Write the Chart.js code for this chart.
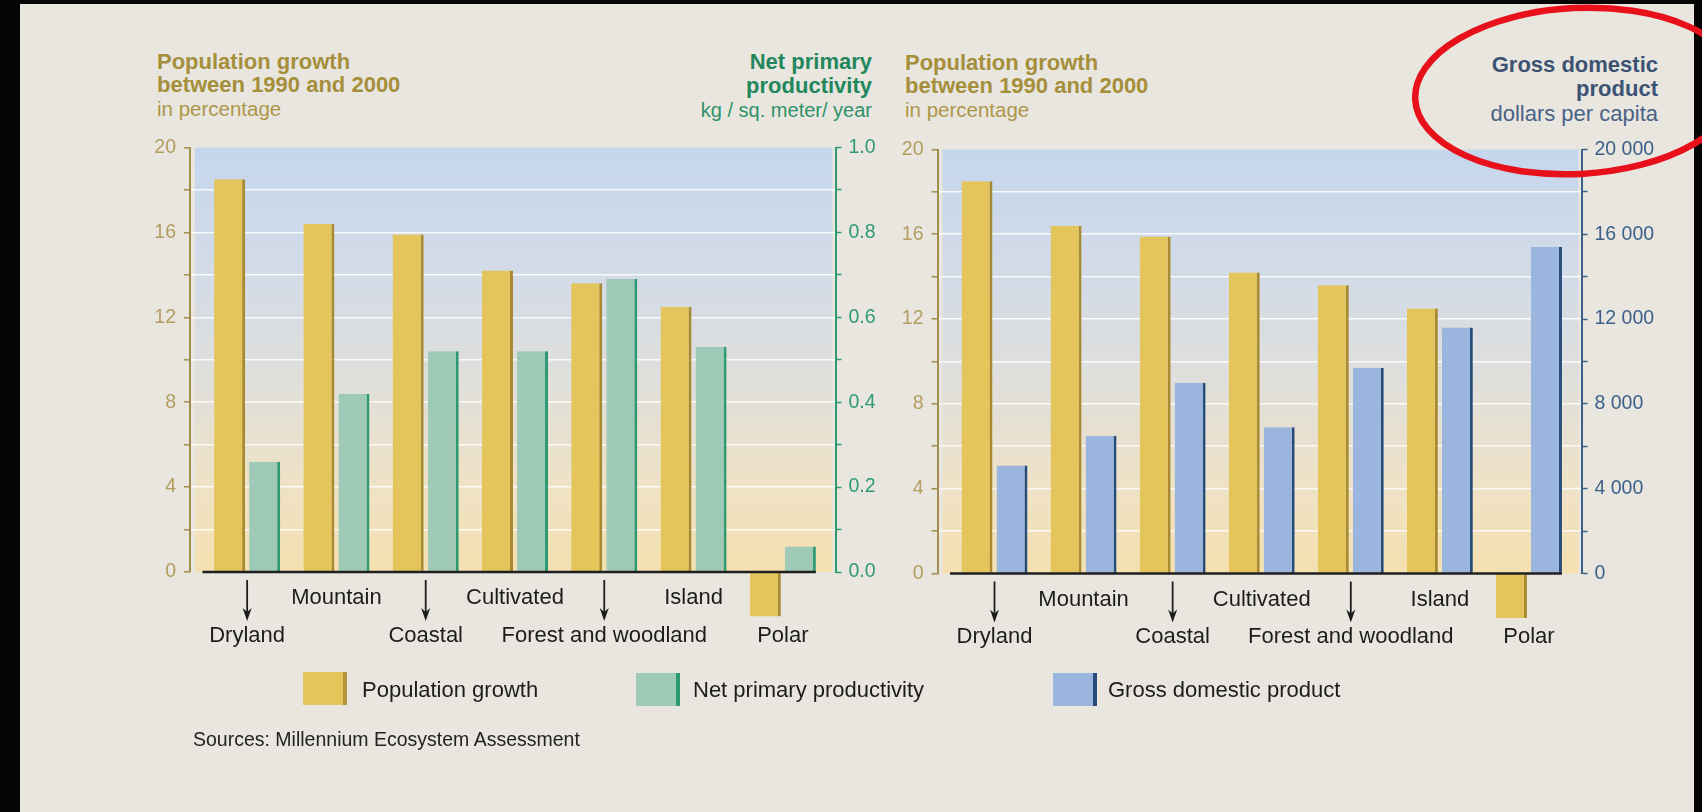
<!DOCTYPE html>
<html>
<head>
<meta charset="utf-8">
<title>Population growth, productivity and GDP by ecosystem</title>
<script src="https://cdn.jsdelivr.net/npm/chart.js@4.4.1/dist/chart.umd.min.js"></script>
<style>
  html, body { margin: 0; padding: 0; }
  body {
    width: 1702px; height: 812px; position: relative; overflow: hidden;
    background: #e9e6e0;
    font-family: "Liberation Sans", Arial, Helvetica, sans-serif;
  }
  canvas { position: absolute; left: 0; top: 0; }
  .t { position: absolute; white-space: nowrap; line-height: 1; }
  .b { font-weight: bold; font-size: 22px; }
  .r { text-align: right; }
  .pop { color: #a58f3b; }
  .pop-sub { color: #ae9748; font-size: 20.5px; }
  .npp { color: #23875c; }
  .npp-sub { color: #2f9268; font-size: 20px; }
  .gdp { color: #3b5273; }
  .gdp-sub { color: #4a6285; font-size: 22px; }
  .legend { font-size: 22px; color: #1c1c1c; }
  .swatch { position: absolute; width: 40px; height: 33px; border-right: 4px solid; }
  .frame { position: absolute; background: #050505; }
</style>
</head>
<body>

<!-- axis titles -->
<div class="t b pop" style="left:157px;top:50.7px">Population growth</div>
<div class="t b pop" style="left:157px;top:74.1px">between 1990 and 2000</div>
<div class="t pop-sub" style="left:157px;top:98.6px">in percentage</div>

<div class="t b npp r" style="right:830px;top:50.7px">Net primary</div>
<div class="t b npp r" style="right:830px;top:74.7px">productivity</div>
<div class="t npp-sub r" style="right:830px;top:99.8px">kg / sq. meter/ year</div>

<div class="t b pop" style="left:905px;top:51.9px">Population growth</div>
<div class="t b pop" style="left:905px;top:75.4px">between 1990 and 2000</div>
<div class="t pop-sub" style="left:905px;top:100px">in percentage</div>

<div class="t b gdp r" style="right:44px;top:54.1px">Gross domestic</div>
<div class="t b gdp r" style="right:44px;top:78.4px">product</div>
<div class="t gdp-sub r" style="right:44px;top:102.9px">dollars per capita</div>

<canvas id="leftChart" width="1702" height="812"></canvas>
<canvas id="rightChart" width="1702" height="812"></canvas>

<!-- legend -->
<div class="swatch" style="left:303px;top:672px;background:#e3c55b;border-color:#b4953c"></div>
<div class="t legend" style="left:362px;top:679.1px">Population growth</div>
<div class="swatch" style="left:636px;top:673px;background:#9fcab8;border-color:#2e9a72"></div>
<div class="t legend" style="left:693px;top:679.1px">Net primary productivity</div>
<div class="swatch" style="left:1053px;top:673px;background:#9ab6df;border-color:#264c7c"></div>
<div class="t legend" style="left:1108px;top:679.1px">Gross domestic product</div>

<div class="t" style="left:193px;top:730.2px;font-size:19.5px;color:#222">Sources: Millennium Ecosystem Assessment</div>

<!-- scan frame -->
<div class="frame" style="left:0;top:0;width:1702px;height:4px"></div>
<div class="frame" style="left:0;top:0;width:20px;height:812px"></div>
<div class="frame" style="left:1694px;top:0;width:8px;height:812px"></div>

<svg style="position:absolute;left:0;top:0" width="1702" height="812">
  <ellipse cx="1577" cy="91" rx="162" ry="83" transform="rotate(-3 1577 91)"
           fill="none" stroke="#e8101a" stroke-width="6.5"/>
</svg>

<script>
const categories = ['Dryland', 'Mountain', 'Coastal', 'Cultivated', 'Forest and woodland', 'Island', 'Polar'];
// % change 1990-2000
const populationGrowth = [18.5, 16.4, 15.9, 14.2, 13.6, 12.5, -2.1];
// kg / sq. meter / year
const netPrimaryProductivity = [0.26, 0.42, 0.52, 0.52, 0.69, 0.53, 0.06];
// dollars per capita
const gdpPerCapita = [5100, 6500, 9000, 6900, 9700, 11600, 15400];

const growthLabels = [0, 4, 8, 12, 16, 20];
const nppLabels = [0, 0.2, 0.4, 0.6, 0.8, 1.0];
const gdpLabels = [0, 4000, 8000, 12000, 16000, 20000];

const FONT = '"Liberation Sans", Arial, Helvetica, sans-serif';

const hasLabel = (list, v) => list.some(l => Math.abs(l - v) < 1e-6);
const asPoints = arr => arr.map((v, i) => ({ x: i, y: v }));

// blue sky to sand backdrop behind the bars
const plotBackground = {
  id: 'plotBackground',
  beforeDraw(chart) {
    const { ctx, chartArea: a } = chart;
    const g = ctx.createLinearGradient(0, a.top, 0, a.bottom);
    g.addColorStop(0, '#c5d6ed');
    g.addColorStop(0.3, '#d3dbe7');
    g.addColorStop(0.55, '#e0dfdb');
    g.addColorStop(0.8, '#efe2c5');
    g.addColorStop(1, '#f4e0b0');
    ctx.save();
    ctx.fillStyle = g;
    ctx.fillRect(a.left + 5, a.top, a.width - 8, a.height);
    ctx.restore();
  }
};

// dark zero line under the bars
const baseline = {
  id: 'baseline',
  afterDatasetsDraw(chart) {
    const { ctx, scales: { x, y } } = chart;
    const bars = chart.getDatasetMeta(chart.data.datasets.length - 1).data;
    const last = bars[bars.length - 1];
    const y0 = y.getPixelForValue(0);
    ctx.save();
    ctx.strokeStyle = '#1f1f1f';
    ctx.lineWidth = 2.5;
    ctx.beginPath();
    ctx.moveTo(x.getPixelForValue(-0.5), y0);
    ctx.lineTo(last.x + last.width / 2, y0);
    ctx.stroke();
    ctx.restore();
  }
};

// staggered category names, arrows point from the axis to the lower row
const categoryLabels = {
  id: 'categoryLabels',
  afterDraw(chart) {
    const { ctx, chartArea: a, scales: { x } } = chart;
    ctx.save();
    ctx.font = '22px ' + FONT;
    ctx.fillStyle = '#1c1c1c';
    ctx.strokeStyle = '#1c1c1c';
    ctx.textAlign = 'center';
    ctx.textBaseline = 'alphabetic';
    categories.forEach((name, i) => {
      const cx = x.getPixelForValue(i);
      if (i % 2) {
        ctx.fillText(name, cx, a.bottom + 32.3);
        return;
      }
      ctx.fillText(name, cx, a.bottom + 69.7);
      if (populationGrowth[i] < 0) return; // bar hangs below the axis there
      const top = a.bottom + 8, tip = a.bottom + 49;
      ctx.lineWidth = 1.8;
      ctx.beginPath();
      ctx.moveTo(cx, top);
      ctx.lineTo(cx, tip - 6);
      ctx.stroke();
      ctx.beginPath();
      ctx.moveTo(cx - 4.5, tip - 13);
      ctx.lineTo(cx, tip);
      ctx.lineTo(cx + 4.5, tip - 13);
      ctx.lineTo(cx, tip - 9);
      ctx.closePath();
      ctx.fill();
    });
    ctx.restore();
  }
};

function growthAxis() {
  return {
    position: 'left',
    min: 0, max: 20,
    afterFit: s => { s.width = 60; },
    ticks: {
      stepSize: 2,
      padding: 8,
      color: '#b39d5f',
      font: { family: FONT, size: 19.5 },
      callback: v => hasLabel(growthLabels, v) ? String(v) : ''
    },
    grid: {
      color: c => (c.tick.value > 0 && c.tick.value < 20) ? 'rgba(255,255,255,0.85)' : 'rgba(0,0,0,0)',
      lineWidth: 1.6,
      tickColor: '#a48e4e',
      tickLength: 6,
      tickWidth: 1.5
    },
    border: { color: '#a48e4e', width: 2 }
  };
}

function secondAxis(max, step, color, labels, fmt) {
  return {
    position: 'right',
    min: 0, max: max,
    afterFit: s => { s.width = 90; },
    ticks: {
      stepSize: step,
      padding: 7,
      color: color,
      font: { family: FONT, size: 19.5 },
      callback: v => hasLabel(labels, v) ? fmt(v) : ''
    },
    grid: { drawOnChartArea: false, tickColor: color, tickLength: 6, tickWidth: 1.5 },
    border: { color: color, width: 2 }
  };
}

function indexAxis() {
  return {
    type: 'linear',
    min: -0.64, max: 6.59,
    offset: false,
    display: false,
    afterBuildTicks: s => { s.ticks = categories.map((c, i) => ({ value: i })); }
  };
}

function barSet(label, data, axis, fill, edge) {
  return {
    label: label,
    data: asPoints(data),
    yAxisID: axis,
    backgroundColor: fill,
    borderColor: edge,
    borderWidth: { top: 0, right: 3, bottom: 0, left: 0 },
    borderSkipped: false,
    categoryPercentage: 0.785,
    barPercentage: 0.886,
    clip: false
  };
}

function makeChart(id, second, padding, secondAxisCfg) {
  return new Chart(document.getElementById(id), {
    type: 'bar',
    data: {
      datasets: [
        barSet('Population growth', populationGrowth, 'y', '#e3c55b', '#a88a30'),
        second
      ]
    },
    options: {
      responsive: false,
      animation: false,
      events: [],
      layout: { padding: padding },
      plugins: { legend: { display: false }, tooltip: { enabled: false } },
      scales: {
        x: indexAxis(),
        y: growthAxis(),
        y1: secondAxisCfg
      }
    },
    plugins: [plotBackground, baseline, categoryLabels]
  });
}

makeChart(
  'leftChart',
  barSet('Net primary productivity', netPrimaryProductivity, 'y1', '#9fcab8', '#2e9a72'),
  { left: 130, right: 776.5, top: 147.5, bottom: 240 },
  secondAxis(1, 0.1, '#2f9a70', nppLabels, v => v.toFixed(1))
);

makeChart(
  'rightChart',
  barSet('Gross domestic product', gdpPerCapita, 'y1', '#9ab6df', '#264c7c'),
  { left: 877.5, right: 30.5, top: 149.5, bottom: 238.5 },
  secondAxis(20000, 2000, '#3d6089', gdpLabels, v => v === 0 ? '0' : (v / 1000) + ' 000')
);
</script>
</body>
</html>
